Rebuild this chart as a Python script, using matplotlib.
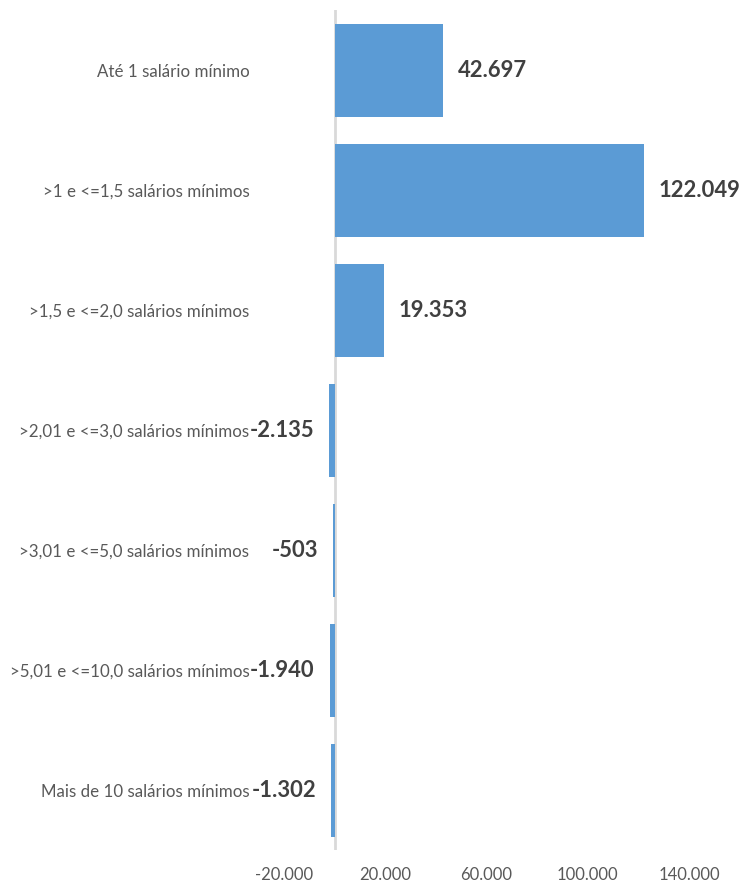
import matplotlib.pyplot as plt
import matplotlib.ticker as mticker

# faixas salariais e saldo de empregos
categorias = ["Até 1 salário mínimo",
              ">1 e <=1,5 salários mínimos",
              ">1,5 e <=2,0 salários mínimos",
              ">2,01 e <=3,0 salários mínimos",
              ">3,01 e <=5,0 salários mínimos",
              ">5,01 e <=10,0 salários mínimos",
              "Mais de 10 salários mínimos"]
saldo = [42697, 122049, 19353, -2135, -503, -1940, -1302]
xticks = [-20000, 20000, 60000, 100000, 140000]

plt.rcParams['font.family'] = ['Lato', 'DejaVu Sans']

def fmt_br(v):
    # separador de milhar com ponto
    return "{:,}".format(int(v)).replace(",", ".")

fig = plt.figure(figsize=(7.42, 8.85), dpi=100)
ax = fig.add_axes([284/742, 1 - 850/885, (689 - 284)/742, 840/885])

ypos = list(range(len(categorias)))
ax.barh(ypos, saldo, height=0.775, color="#5B9BD5", zorder=2)
ax.axvline(0, color="#D9D9D9", lw=2, zorder=1)

for y, v in zip(ypos, saldo):
    if v >= 0:
        ax.annotate(fmt_br(v), (v, y), xytext=(11, 0), textcoords="offset points",
                    ha="left", va="center", fontsize=15.8, fontweight="bold", color="#404040")
    else:
        ax.annotate(fmt_br(v), (v, y), xytext=(-11, 0), textcoords="offset points",
                    ha="right", va="center", fontsize=15.8, fontweight="bold", color="#404040")

ax.set_xlim(-20000, 140000)
ax.set_ylim(len(categorias) - 0.5, -0.5)
ax.set_xticks(xticks)
ax.xaxis.set_major_formatter(mticker.FuncFormatter(lambda v, p: fmt_br(v)))
ax.set_yticks(ypos)
ax.set_yticklabels(categorias)
ax.tick_params(axis="y", length=0, pad=25, labelsize=12.2, labelcolor="#595959")
ax.tick_params(axis="x", length=0, pad=12, labelsize=12, labelcolor="#595959")
for s in ax.spines.values():
    s.set_visible(False)

fig.savefig("out.png", dpi=100)
